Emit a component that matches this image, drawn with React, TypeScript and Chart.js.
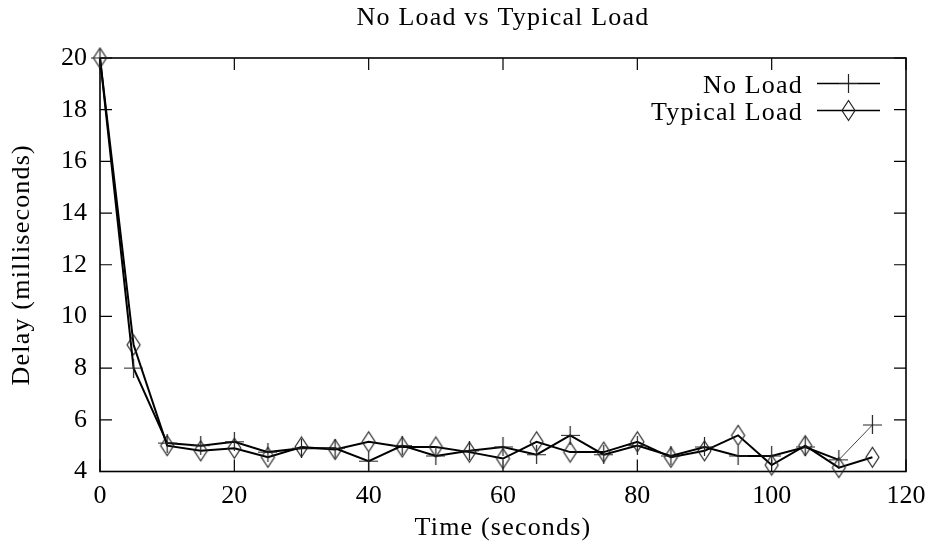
import React, { useEffect, useRef } from "react";
import { Chart, registerables } from "chart.js";

Chart.register(...registerables);

// ---- data ----
const TIMES = [0, 5, 10, 15, 20, 25, 30, 35, 40, 45, 50, 55, 60, 65, 70, 75, 80, 85, 90, 95, 100, 105, 110, 115];
const NO_LOAD = [20, 8.0, 5.1, 5.0, 5.15, 4.75, 4.9, 4.9, 4.4, 5.0, 4.6, 4.8, 4.95, 4.65, 5.4, 4.65, 5.0, 4.6, 4.95, 4.6, 4.6, 4.95, 4.45, 5.8];
const TYPICAL = [20, 8.9, 5.0, 4.8, 4.9, 4.55, 4.95, 4.85, 5.15, 4.95, 4.95, 4.75, 4.5, 5.15, 4.75, 4.75, 5.15, 4.55, 4.8, 5.4, 4.25, 5.0, 4.15, 4.55];
const X_TICKS = [0, 20, 40, 60, 80, 100, 120];
const Y_TICKS = [4, 6, 8, 10, 12, 14, 16, 18, 20];
const SERIES_NAMES = ["No Load", "Typical Load"];
const TITLE = "No Load vs Typical Load";
const X_LABEL = "Time (seconds)";
const Y_LABEL = "Delay (milliseconds)";

const FONT_FAMILY = '"Liberation Serif", "DejaVu Serif", serif';
const FONT_SIZE = 26;

function makeDiamond(): HTMLCanvasElement {
  const c = document.createElement("canvas");
  c.width = 17;
  c.height = 23;
  const ctx = c.getContext("2d")!;
  ctx.strokeStyle = "#222";
  ctx.lineWidth = 1.2;
  ctx.beginPath();
  ctx.moveTo(8.5, 1.5);
  ctx.lineTo(15, 11.5);
  ctx.lineTo(8.5, 21.5);
  ctx.lineTo(2, 11.5);
  ctx.closePath();
  ctx.stroke();
  return c;
}

function makePlus(): HTMLCanvasElement {
  const c = document.createElement("canvas");
  c.width = 19;
  c.height = 19;
  const ctx = c.getContext("2d")!;
  ctx.strokeStyle = "#222";
  ctx.lineWidth = 1.2;
  ctx.beginPath();
  ctx.moveTo(0, 9.5);
  ctx.lineTo(19, 9.5);
  ctx.moveTo(9.5, 0);
  ctx.lineTo(9.5, 19);
  ctx.stroke();
  return c;
}

export default function App() {
  const ref = useRef<HTMLCanvasElement | null>(null);

  useEffect(() => {
    const canvas = ref.current;
    if (!canvas) return;
    const diamond = makeDiamond();
    const plus = makePlus();
    const font = `${FONT_SIZE}px ${FONT_FAMILY}`;

    const framePlugin = {
      id: "gnuplotFrame",
      beforeDatasetsDraw(chart: any) {
        const { ctx, chartArea } = chart;
        const { left, right, top, bottom } = chartArea;
        const xs = chart.scales.x;
        const ys = chart.scales.y;
        ctx.save();
        ctx.strokeStyle = "#000";
        ctx.lineWidth = 1.2;
        ctx.beginPath();
        const tl = 12;
        X_TICKS.forEach((v) => {
          const px = xs.getPixelForValue(v);
          ctx.moveTo(px, bottom);
          ctx.lineTo(px, bottom - tl);
          ctx.moveTo(px, top);
          ctx.lineTo(px, top + tl);
        });
        Y_TICKS.forEach((v) => {
          const py = ys.getPixelForValue(v);
          ctx.moveTo(left, py);
          ctx.lineTo(left + tl, py);
          ctx.moveTo(right, py);
          ctx.lineTo(right - tl, py);
        });
        ctx.stroke();
        ctx.lineWidth = 1.6;
        ctx.strokeRect(left, top, right - left, bottom - top);
        ctx.restore();
      },
      afterDraw(chart: any) {
        const { ctx, chartArea } = chart;
        const { left, right, top, bottom } = chartArea;
        const cx = (left + right) / 2;
        ctx.save();
        ctx.fillStyle = "#000";
        ctx.font = font;
        (ctx as any).letterSpacing = "1.2px";
        ctx.textBaseline = "alphabetic";
        ctx.textAlign = "center";
        ctx.fillText(TITLE, cx, 25);
        ctx.fillText(X_LABEL, cx, 535);
        ctx.save();
        ctx.translate(29, (top + bottom) / 2);
        ctx.rotate(-Math.PI / 2);
        ctx.fillText(Y_LABEL, 0, 0);
        ctx.restore();

        // legend
        const rows = [
          { name: SERIES_NAMES[0], y: 83.5, marker: plus },
          { name: SERIES_NAMES[1], y: 110.5, marker: diamond },
        ];
        rows.forEach((r) => {
          ctx.textAlign = "right";
          ctx.fillStyle = "#000";
          ctx.fillText(r.name, 803, r.y + 9);
          ctx.strokeStyle = "#000";
          ctx.lineWidth = 1.6;
          ctx.beginPath();
          ctx.moveTo(817, r.y);
          ctx.lineTo(880, r.y);
          ctx.stroke();
          ctx.drawImage(r.marker, 848.5 - r.marker.width / 2, r.y - r.marker.height / 2);
        });
        ctx.restore();
      },
    };

    const chart = new Chart(canvas, {
      type: "line",
      data: {
        datasets: [
          {
            label: SERIES_NAMES[0],
            data: TIMES.map((t, i) => ({ x: t, y: NO_LOAD[i] })),
            borderColor: "#000",
            borderWidth: 2,
            pointStyle: plus as any,
            pointRadius: 9,
            tension: 0,
            clip: false as any,
            segment: {
              borderWidth: (c: any) => (c.p0DataIndex === TIMES.length - 2 ? 1 : 2),
              borderColor: (c: any) => (c.p0DataIndex === TIMES.length - 2 ? "#444" : "#000"),
            },
          },
          {
            label: SERIES_NAMES[1],
            data: TIMES.map((t, i) => ({ x: t, y: TYPICAL[i] })),
            borderColor: "#000",
            borderWidth: 2,
            pointStyle: diamond as any,
            pointRadius: 10,
            tension: 0,
            clip: false as any,
          },
        ],
      },
      options: {
        responsive: false,
        animation: false,
        events: [],
        devicePixelRatio: 1,
        layout: { padding: { top: 58, right: 30, left: 0, bottom: 0 } },
        plugins: {
          legend: { display: false },
          title: { display: false },
          tooltip: { enabled: false },
        },
        scales: {
          x: {
            type: "linear",
            min: 0,
            max: 120,
            afterBuildTicks: (s: any) => {
              s.ticks = X_TICKS.map((v) => ({ value: v }));
            },
            afterFit: (s: any) => {
              s.height = 83.5;
            },
            grid: { display: false, drawTicks: false },
            border: { display: false },
            ticks: {
              padding: 9,
              color: "#000",
              maxRotation: 0,
              autoSkip: false,
              font: { family: FONT_FAMILY, size: FONT_SIZE },
            },
          },
          y: {
            type: "linear",
            min: 4,
            max: 20,
            afterBuildTicks: (s: any) => {
              s.ticks = Y_TICKS.map((v) => ({ value: v }));
            },
            afterFit: (s: any) => {
              s.width = 100;
            },
            grid: { display: false, drawTicks: false },
            border: { display: false },
            ticks: {
              padding: 13,
              color: "#000",
              autoSkip: false,
              font: { family: FONT_FAMILY, size: FONT_SIZE },
            },
          },
        },
      },
      plugins: [framePlugin],
    });

    return () => chart.destroy();
  }, []);

  return (
    <div style={{ position: "absolute", left: 0, top: 0, width: 936, height: 555, background: "#fff" }}>
      <canvas ref={ref} width={936} height={555} style={{ width: 936, height: 555, display: "block" }} />
    </div>
  );
}
